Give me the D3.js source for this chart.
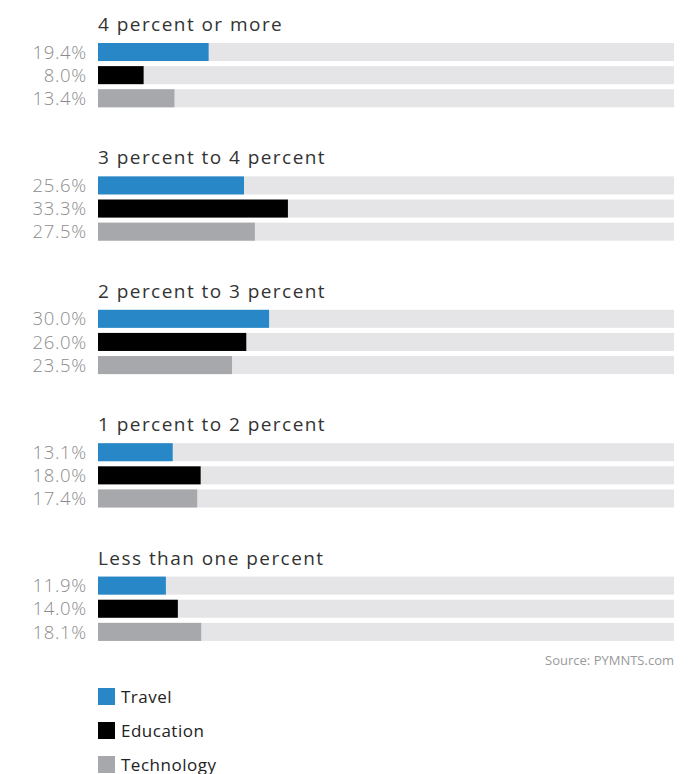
<!DOCTYPE html>
<html>
<head>
<meta charset="utf-8">
<script src="https://cdn.jsdelivr.net/npm/d3@7"></script>
<style>
  body { margin: 0; background: #fff; }
  svg { display: block; font-family: "Open Sans", sans-serif; }
</style>
</head>
<body>
<div id="chart"></div>
<script>
var groups = ["4 percent or more", "3 percent to 4 percent", "2 percent to 3 percent", "1 percent to 2 percent", "Less than one percent"];
var series = ["Travel", "Education", "Technology"];
var colors = ["#2787c7", "#000000", "#a7a8ab"];
var travel = [19.4, 25.6, 30.0, 13.1, 11.9];
var education = [8.0, 33.3, 26.0, 18.0, 14.0];
var technology = [13.4, 27.5, 23.5, 17.4, 18.1];
var values = [travel, education, technology];

var width = 693, height = 774;
var svg = d3.select("#chart").append("svg").attr("width", width).attr("height", height);

var x = d3.scaleLinear().domain([0, 101]).range([98, 674]);
var gy = d3.scaleBand().domain(groups).range([10, 677]);
var by = d3.scaleBand().domain(series).range([33, 97.3]).paddingInner(0.22);

var g = svg.selectAll("g.grp").data(groups).join("g")
  .attr("class", "grp")
  .attr("transform", function (d) { return "translate(0," + gy(d) + ")"; });

g.append("text")
  .attr("x", 98).attr("y", 21)
  .attr("font-size", 19).attr("fill", "#333")
  .attr("letter-spacing", 1.45)
  .text(function (d) { return d; });

g.each(function (grp, gi) {
  var sel = d3.select(this);
  series.forEach(function (s, si) {
    var v = values[si][gi];
    sel.append("rect").attr("x", x(0)).attr("y", by(s))
      .attr("width", x.range()[1] - x(0)).attr("height", by.bandwidth())
      .attr("fill", "#e5e5e7");
    sel.append("rect").attr("x", x(0)).attr("y", by(s))
      .attr("width", x(v) - x(0)).attr("height", by.bandwidth())
      .attr("fill", colors[si]);
    sel.append("text").attr("x", 87).attr("y", by(s) + by.bandwidth() / 2)
      .attr("dy", "0.36em").attr("text-anchor", "end")
      .attr("font-size", 18.5).attr("fill", "#8c8c8c").attr("font-weight", 300)
      .attr("letter-spacing", 0.7)
      .text(v.toFixed(1) + "%");
  });
});

svg.append("text").attr("x", 674).attr("y", 665).attr("text-anchor", "end")
  .attr("font-size", 13).attr("fill", "#999").text("Source: PYMNTS.com");

var leg = svg.selectAll("g.leg").data(series).join("g")
  .attr("class", "leg")
  .attr("transform", function (d, i) { return "translate(98," + (688 + i * 34) + ")"; });
leg.append("rect").attr("width", 17).attr("height", 17)
  .attr("fill", function (d, i) { return colors[i]; });
leg.append("text").attr("x", 23).attr("y", 9).attr("dy", "0.36em")
  .attr("font-size", 17).attr("letter-spacing", 0.5)
  .attr("fill", "#222").text(function (d) { return d; });
</script>
</body>
</html>
